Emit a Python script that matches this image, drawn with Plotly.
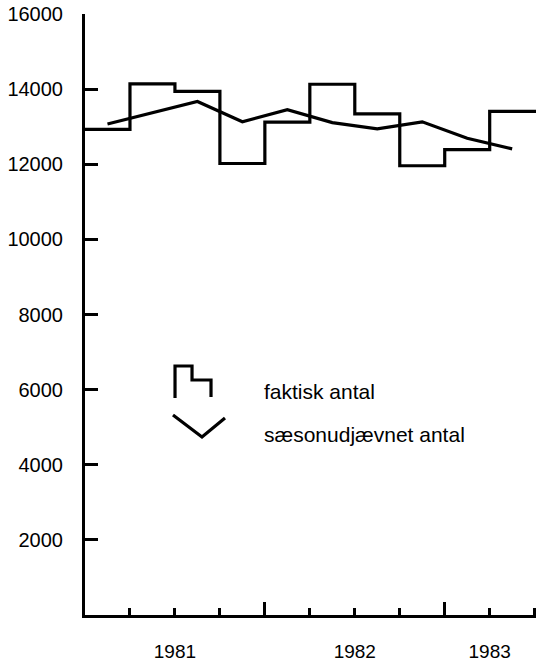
import plotly.graph_objects as go

# ---- data ----
years = ["1981", "1982", "1983"]
actual = [12930, 14140, 13940, 12020, 13120, 14130, 13340, 11960, 12390, 13410]
smoothed = [13070, 13370, 13670, 13130, 13450, 13110, 12940, 13130, 12690, 12410]
y_tick_values = [2000, 4000, 6000, 8000, 10000, 12000, 14000, 16000]
legend_labels = ["faktisk antal", "sæsonudjævnet antal"]

# ---- layout constants ----
W, H = 536, 664
ML, MR, MT, MB = 85, 0, 14, 49
FONT = "Liberation Sans, Arial, Helvetica, sans-serif"
FS = 20
LW = 3.2
xr = [0, 10.03]

n = len(actual)
x_step = list(range(n)) + [xr[1]]
y_step = actual + [actual[-1]]
x_smooth = [i + 0.5 for i in range(len(smoothed))]

# year label at quarter boundaries 2, 6, 9 (mid-year; last year partially shown)
label_at = {2: years[0], 6: years[1], 9: years[2]}
qticks = list(range(1, n + 1))
qtext = [label_at.get(q, "") for q in qticks]

fig = go.Figure()
fig.add_trace(go.Scatter(x=x_step, y=y_step, mode="lines", line=dict(shape="hv", color="black", width=LW),
                         showlegend=False, hoverinfo="skip"))
fig.add_trace(go.Scatter(x=x_smooth, y=smoothed, mode="lines", line=dict(color="black", width=LW),
                         showlegend=False, hoverinfo="skip"))
# invisible trace to activate overlay axis
fig.add_trace(go.Scatter(x=[0], y=[0], xaxis="x2", mode="markers", marker=dict(opacity=0),
                         showlegend=False, hoverinfo="skip"))

fig.update_layout(
    template="none",
    width=W, height=H,
    margin=dict(l=ML, r=MR, t=MT, b=MB, pad=0),
    paper_bgcolor="white", plot_bgcolor="white",
    font=dict(family=FONT, size=FS, color="black"),
    xaxis=dict(range=xr, showgrid=False, zeroline=False, showline=True, linecolor="black", linewidth=3,
               automargin=False,
               tickmode="array", tickvals=qticks, ticktext=qtext, ticks="inside", ticklen=7, tickwidth=3,
               tickcolor="black", ticklabelstandoff=17, tickfont=dict(size=19)),
    xaxis2=dict(range=xr, overlaying="x", anchor="y", side="bottom", showgrid=False, zeroline=False,
                automargin=False,
                showline=False, tickmode="array", tickvals=[4, 8], ticks="inside", ticklen=13, tickwidth=3,
                tickcolor="black", showticklabels=False),
    yaxis=dict(range=[0, 16000], showgrid=False, zeroline=False, showline=True, linecolor="black", linewidth=3,
               automargin=False,
               tickmode="array", tickvals=y_tick_values, ticktext=[str(v) for v in y_tick_values],
               ticks="inside", ticklen=13, tickwidth=3,
               tickcolor="black", ticklabelstandoff=15, tickfont=dict(size=FS)),
)

pw, ph = W - ML - MR, H - MT - MB
def px(x):
    return (x - ML) / pw
def py(y):
    return (H - MB - y) / ph

# legend glyphs (decoration)
step_icon = [(175, 398), (175, 366), (192, 366), (192, 380), (211, 380), (211, 397)]
v_icon = [(173, 415), (202, 437), (225, 418)]
for pts in (step_icon, v_icon):
    path = "M " + " L ".join(f"{px(a):.4f},{py(b):.4f}" for a, b in pts)
    fig.add_shape(type="path", path=path, xref="paper", yref="paper",
                  line=dict(color="black", width=LW))

for label, yc in zip(legend_labels, (391, 434)):
    fig.add_annotation(text=label, x=px(262), y=py(yc), xref="paper", yref="paper",
                       xanchor="left", yanchor="middle", showarrow=False,
                       font=dict(family=FONT, size=21, color="black"))

fig.write_html("out.html", config={"displayModeBar": False},
               post_script="document.body.style.margin='0';")
